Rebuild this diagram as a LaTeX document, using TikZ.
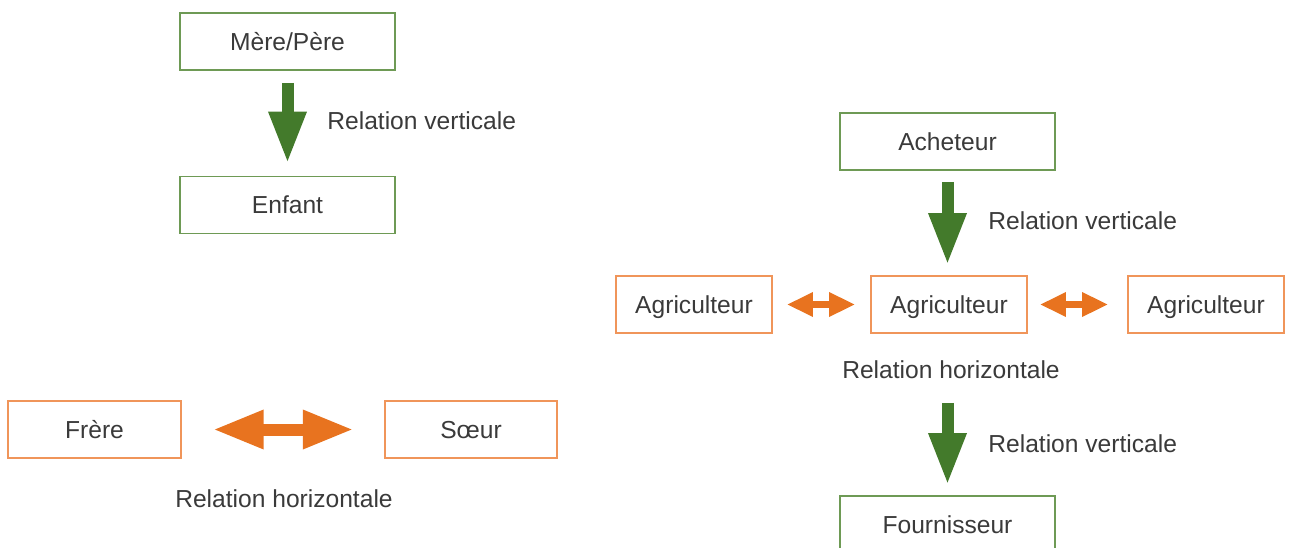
\documentclass[tikz,border=0pt]{standalone}
\usepackage{fontspec}
\setmainfont{Liberation Sans}
\usetikzlibrary{arrows.meta}
\definecolor{vert}{HTML}{437A2B}
\definecolor{vertclair}{HTML}{6E9A55}
\definecolor{orangevif}{HTML}{E8731F}
\definecolor{orangeclair}{HTML}{F0955A}
\definecolor{texte}{HTML}{3A3A3A}
\begin{document}
\begin{tikzpicture}[
    x=0.02cm, y=-0.02cm,
    every node/.style={font=\fontsize{14}{16}\selectfont, text=texte},
    vbox/.style={draw=vertclair, line width=1.1pt, minimum width=4.3cm,
                 minimum height=1.14cm, inner sep=0pt,
                 text height=10pt, text depth=0pt},
    obox/.style={draw=orangeclair, line width=1.1pt,
                 minimum height=1.14cm, inner sep=0pt,
                 text height=10pt, text depth=0pt},
    vfleche/.style={draw=vert, line width=0.24cm,
                    -{Triangle[length=1.04cm, width=0.7cm]}},
    hfleche/.style={draw=orangevif, line width=0.24cm,
                    {Triangle[length=1.02cm, width=0.72cm]}-{Triangle[length=1.02cm, width=0.72cm]}},
    hpetite/.style={draw=orangevif, line width=0.14cm,
                    {Triangle[length=0.52cm, width=0.46cm]}-{Triangle[length=0.52cm, width=0.46cm]}},
    lbl/.style={inner sep=0pt},
]
\useasboundingbox (0,0) rectangle (1293,547);

% ── Famille : relation verticale ──
\node[vbox] (parent) at (287.5,41.5) {Mère/Père};
\node[vbox] (enfant) at (287.5,205) {Enfant};
\draw[vfleche, shorten <=0.24cm, shorten >=0.24cm] (parent.south) -- (enfant.north);
\node[lbl, anchor=west] (relv1) at (327,121) {Relation verticale};

% ── Famille : relation horizontale ──
\node[obox, minimum width=3.45cm] (frere) at (94.5,429.5) {Frère};
\node[obox, minimum width=3.45cm] (soeur) at (471,429.5) {Sœur};
\draw[hfleche, shorten <=0.62cm, shorten >=0.6cm] (frere.east) -- (soeur.west);
\node[lbl] (relh1) at (284,499) {Relation horizontale};

% ── Filière : acheteur / agriculteurs / fournisseur ──
\node[vbox] (acheteur) at (947.5,141.5) {Acheteur};
\node[obox, minimum width=3.12cm] (agri1) at (694,304.5) {Agriculteur};
\node[obox, minimum width=3.12cm] (agri2) at (949,304.5) {Agriculteur};
\node[obox, minimum width=3.12cm] (agri3) at (1206,304.5) {Agriculteur};
\node[vbox] (fourn) at (947.5,524.5) {Fournisseur};

% Acheteur -> Agriculteur
\draw[vfleche, shorten <=0.22cm, shorten >=0.2cm] (acheteur.south) -- (acheteur.south |- agri2.north);
\node[lbl, anchor=west] (relv2) at (988,221) {Relation verticale};
% Agriculteurs entre eux
\draw[hpetite, shorten <=0.28cm, shorten >=0.3cm] (agri1.east) -- (agri2.west);
\draw[hpetite, shorten <=0.24cm, shorten >=0.38cm] (agri2.east) -- (agri3.west);
\node[lbl] (relh2) at (951,370) {Relation horizontale};
% Agriculteur -> Fournisseur
\draw[vfleche, shorten <=1.38cm, shorten >=0.2cm] (acheteur.south |- agri2.south) -- (fourn.north);
\node[lbl, anchor=west] (relv3) at (988,444) {Relation verticale};
\end{tikzpicture}
\end{document}
